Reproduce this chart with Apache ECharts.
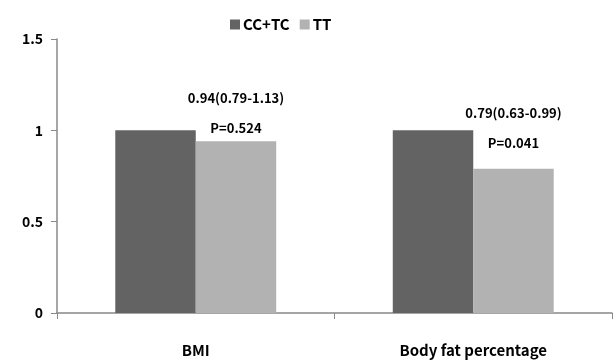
<!DOCTYPE html>
<html><head><meta charset="utf-8">
<script src="https://cdn.jsdelivr.net/npm/echarts@6/dist/echarts.min.js"></script>
<style>html,body{margin:0;padding:0;background:#fff}#c{width:613px;height:363px}</style>
</head><body><div id="c"></div>
<script>
const categories = ['BMI', 'Body fat percentage'];
const seriesNames = ['CC+TC', 'TT'];
const ccTcValues = [1, 1];
const ttValues = [0.94, 0.79];
const orLabels = ['0.94(0.79-1.13)', '0.79(0.63-0.99)'];
const pLabels = ['P=0.524', 'P=0.041'];
const labelDistances = [-2, 11];

const font = '"Noto Sans CJK KR", "Noto Sans", sans-serif';
const chart = echarts.init(document.getElementById('c'));
chart.setOption({
  animation: false,
  textStyle: { fontFamily: font },
  legend: {
    top: 12, left: 225, itemWidth: 10, itemHeight: 10, itemGap: 10,
    icon: 'rect',
    textStyle: { fontFamily: font, fontWeight: 'bold', fontSize: 15, color: '#000', padding: [0, 0, 0, -2] },
    data: seriesNames
  },
  grid: { left: 57, right: 1, top: 39, bottom: 50 },
  xAxis: {
    type: 'category', data: categories,
    axisLine: { lineStyle: { color: '#888', width: 1.5 } },
    axisTick: { show: true, length: 6, lineStyle: { color: '#888' } },
    axisLabel: { margin: 30, fontFamily: font, fontWeight: 'bold', fontSize: 15, color: '#000' }
  },
  yAxis: {
    type: 'value', min: 0, max: 1.5, interval: 0.5,
    splitLine: { show: false },
    axisLine: { show: true, lineStyle: { color: '#888', width: 1.5 } },
    axisTick: { show: true, length: 6, lineStyle: { color: '#888' } },
    axisLabel: { margin: 14, fontFamily: font, fontWeight: 'bold', fontSize: 14, color: '#000',
      formatter: v => String(v) }
  },
  series: [
    { name: seriesNames[0], type: 'bar', data: ccTcValues, barGap: '0%', barCategoryGap: '42%',
      itemStyle: { color: '#636363' } },
    { name: seriesNames[1], type: 'bar', data: ttValues.map((v, i) => ({
        value: v,
        label: { show: true, position: 'top', distance: labelDistances[i],
          formatter: orLabels[i] + '\n' + pLabels[i],
          lineHeight: 30, fontFamily: font, fontWeight: 'bold', fontSize: 13, color: '#000' }
      })),
      itemStyle: { color: '#b2b2b2' } }
  ]
});
</script></body></html>
